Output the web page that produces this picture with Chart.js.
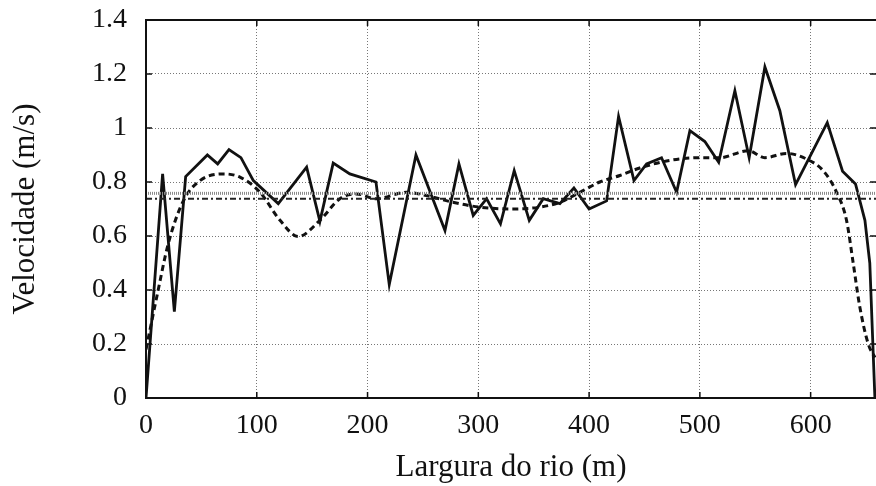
<!DOCTYPE html>
<html>
<head>
<meta charset="utf-8">
<script src="https://cdn.jsdelivr.net/npm/chart.js@4"></script>
<style>
  html, body { margin: 0; padding: 0; background: #fff; }
  #wrap { width: 876px; height: 486px; }
</style>
</head>
<body>
<div id="wrap"><canvas id="velChart" width="876" height="486"></canvas></div>
<script>
// measured profile (solid) and smoothed profile (dashed)
const xMeasured = [0, 15, 25.6, 35.8, 55.4, 64.7, 74.9, 85.7, 96.9, 119.4, 145, 157, 169, 184, 207.6, 219.6, 243.7, 269.9, 282.5, 295.4, 307.5, 320, 332.4, 346, 358.6, 373.6, 386.3, 400, 415.8, 426.6, 440.5, 451.9, 465.4, 479, 491, 504.5, 517, 531.6, 544.5, 558.7, 572.2, 586.4, 615, 628.8, 640.5, 649, 653.4, 658];
const yMeasured = [0, 0.83, 0.32, 0.82, 0.90, 0.867, 0.92, 0.89, 0.805, 0.72, 0.855, 0.654, 0.87, 0.83, 0.80, 0.42, 0.90, 0.62, 0.867, 0.676, 0.738, 0.645, 0.842, 0.658, 0.738, 0.72, 0.778, 0.70, 0.73, 1.043, 0.805, 0.867, 0.89, 0.762, 0.99, 0.95, 0.873, 1.138, 0.89, 1.226, 1.064, 0.79, 1.02, 0.84, 0.793, 0.658, 0.50, 0];

const xSmooth = [0, 10, 20, 33.7, 48.7, 69.8, 84.8, 102.9, 121, 137.5, 157, 175, 190, 208, 235, 253, 277, 301, 331.5, 355.6, 373.6, 391.7, 409.7, 427.8, 445.8, 472.9, 500, 518, 543.6, 558.7, 578.2, 596.3, 611.3, 623.4, 632.4, 638.4, 644.4, 652, 658];
const ySmooth = [0.18, 0.38, 0.57, 0.73, 0.805, 0.83, 0.818, 0.762, 0.658, 0.598, 0.658, 0.738, 0.756, 0.738, 0.762, 0.75, 0.725, 0.707, 0.70, 0.707, 0.725, 0.762, 0.80, 0.824, 0.852, 0.88, 0.89, 0.89, 0.916, 0.89, 0.906, 0.885, 0.842, 0.762, 0.658, 0.50, 0.337, 0.20, 0.15];

// mean levels
const xMeanEnds = [0, 660];
const meanA = 0.758;
const meanB = 0.738;

const xMax = 659;
const yTicks = [0, 0.2, 0.4, 0.6, 0.8, 1, 1.2, 1.4];

const toPts = (xs, ys) => xs.map((x, i) => ({ x: x, y: ys[i] }));

const frame = {
  id: "frame",
  afterDraw: chart => {
    const ctx = chart.ctx;
    const a = chart.chartArea;
    const xs = chart.scales.x, ys = chart.scales.y;
    ctx.save();
    ctx.strokeStyle = "#111";
    ctx.lineWidth = 1.5;
    // inward tick marks
    ctx.beginPath();
    for (let v = 100; v <= 600; v += 100) {
      const p = xs.getPixelForValue(v);
      ctx.moveTo(p, a.bottom); ctx.lineTo(p, a.bottom - 6);
      ctx.moveTo(p, a.top); ctx.lineTo(p, a.top + 6);
    }
    yTicks.forEach(v => {
      const p = ys.getPixelForValue(v);
      ctx.moveTo(a.left, p); ctx.lineTo(a.left + 6, p);
      ctx.moveTo(a.right, p); ctx.lineTo(a.right - 6, p);
    });
    ctx.stroke();
    ctx.lineWidth = 2;
    ctx.strokeRect(a.left, a.top, a.right - a.left + 2, a.bottom - a.top);
    ctx.restore();
  }
};

const serif = "'Liberation Serif', 'DejaVu Serif', serif";

new Chart(document.getElementById("velChart").getContext("2d"), {
  type: "line",
  plugins: [frame],
  data: {
    datasets: [
      {
        label: "mean A",
        data: toPts(xMeanEnds, [meanA, meanA]),
        borderColor: "#8a8a8a",
        borderWidth: 3,
        borderDash: [1, 1],
        pointRadius: 0
      },
      {
        label: "mean B",
        data: toPts(xMeanEnds, [meanB, meanB]),
        borderColor: "#222",
        borderWidth: 2,
        borderDash: [6, 3, 2, 3],
        pointRadius: 0
      },
      {
        label: "smooth",
        data: toPts(xSmooth, ySmooth),
        borderColor: "#111",
        borderWidth: 3,
        borderDash: [6, 4],
        cubicInterpolationMode: "monotone",
        pointRadius: 0
      },
      {
        label: "measured",
        data: toPts(xMeasured, yMeasured),
        borderColor: "#111",
        borderWidth: 2.8,
        borderJoinStyle: "miter",
        tension: 0,
        pointRadius: 0
      }
    ]
  },
  options: {
    responsive: false,
    animation: false,
    layout: { padding: { top: 20, left: 0, right: 0, bottom: 0 } },
    plugins: {
      legend: { display: false },
      tooltip: { enabled: false }
    },
    scales: {
      x: {
        type: "linear",
        min: 0,
        max: xMax,
        afterFit: s => { s.height = 88; s.paddingLeft = 0; s.paddingRight = 0; },
        border: { display: false, dash: [1, 2] },
        grid: {
          color: "#777",
          lineWidth: 1,
          drawTicks: false
        },
        ticks: {
          stepSize: 100,
          includeBounds: false,
          padding: 11,
          color: "#111",
          font: { family: serif, size: 28 }
        },
        title: {
          display: true,
          text: "Largura do rio (m)",
          color: "#111",
          font: { family: serif, size: 31 },
          padding: { top: 0, bottom: 0 }
        }
      },
      y: {
        min: 0,
        max: 1.4,
        afterFit: s => { s.width = 146; s.paddingTop = 0; s.paddingBottom = 0; },
        border: { display: false, dash: [1, 2] },
        grid: {
          color: "#777",
          lineWidth: 1,
          drawTicks: false
        },
        ticks: {
          stepSize: 0.2,
          padding: 19,
          color: "#111",
          font: { family: serif, size: 28 },
          callback: v => String(Math.round(v * 10) / 10)
        },
        title: {
          display: true,
          text: "Velocidade (m/s)",
          color: "#111",
          font: { family: serif, size: 31 },
          padding: { top: 7, bottom: 0 }
        }
      }
    }
  }
});
</script>
</body>
</html>
